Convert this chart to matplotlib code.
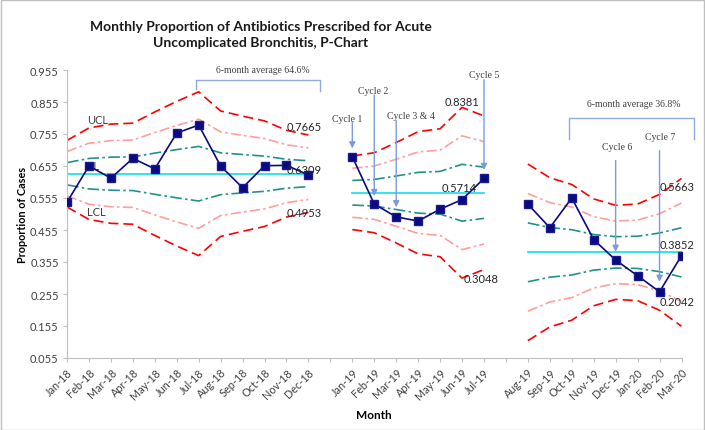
import numpy as np
import matplotlib.pyplot as plt
from matplotlib.patches import Rectangle

# ---- data ----
months_base = ['Jan-18', 'Feb-18', 'Mar-18', 'Apr-18', 'May-18', 'Jun-18',
               'Jul-18', 'Aug-18', 'Sep-18', 'Oct-18', 'Nov-18', 'Dec-18']
months_cyc = ['Jan-19', 'Feb-19', 'Mar-19', 'Apr-19', 'May-19', 'Jun-19', 'Jul-19']
months_post = ['Aug-19', 'Sep-19', 'Oct-19', 'Nov-19', 'Dec-19', 'Jan-20',
               'Feb-20', 'Mar-20']

# proportion of cases
p_base = [0.542, 0.655, 0.617, 0.679, 0.646, 0.758, 0.783, 0.655, 0.587, 0.656, 0.657, 0.627]
p_cyc = [0.684, 0.536, 0.496, 0.483, 0.520, 0.550, 0.616]
p_post = [0.536, 0.462, 0.555, 0.425, 0.361, 0.312, 0.262, 0.375]

# centre lines
cl_base = 0.6309
cl_cyc = 0.5714
cl_post = 0.3852

# 3-sigma half widths (UCL - CL) per month
w_base = [0.104, 0.143, 0.155, 0.158, 0.193, 0.226, 0.256, 0.196, 0.180, 0.165, 0.1356, 0.121]
w_cyc = [0.115, 0.125, 0.157, 0.191, 0.200, 0.2667, 0.240]
w_post = [0.276, 0.233, 0.212, 0.167, 0.147, 0.151, 0.1811, 0.231]

# category axis with an empty slot between the three phases
months = months_base + [''] + months_cyc + [''] + months_post
x_base = [months.index(m) for m in months_base]
x_cyc = [months.index(m) for m in months_cyc]
x_post = [months.index(m) for m in months_post]

SANS = ['Lato', 'DejaVu Sans']
SERIF = ['Liberation Serif', 'DejaVu Serif']

fig = plt.figure(figsize=(7.05, 4.31), dpi=100)
ax = fig.add_axes([67 / 705, 1 - 359 / 431, (681.5 - 67) / 705, (359 - 71) / 431])


def draw_segment(x, p, cl, w):
    x = np.array(x)
    w = np.array(w)
    for k, col, dash in [(3, '#FF0000', (6, 3)),
                         (2, '#FF9E9E', (6, 2, 1.5, 2)),
                         (1, '#22908E', (7, 2, 1.5, 2))]:
        ax.plot(x, cl + k * w / 3, color=col, lw=1.2, dashes=dash)
        ax.plot(x, cl - k * w / 3, color=col, lw=1.2, dashes=dash)
    ax.plot(x, np.full(len(x), cl), color='#22E0EE', lw=1.3)
    ax.plot(x, p, color='#0A0A80', lw=1.2, marker='s', markersize=5.5,
            markerfacecolor='#0A0A80', markeredgecolor='#1A1A90', zorder=5)


draw_segment(x_base, p_base, cl_base, w_base)
draw_segment(x_cyc, p_cyc, cl_cyc, w_cyc)
draw_segment(x_post, p_post, cl_post, w_post)

ax.set_xlim(0, len(months) - 1)
ax.set_ylim(0.055, 0.955)
ax.set_yticks(np.arange(0.055, 0.956, 0.1))
ax.set_yticklabels(['%.3f' % v for v in np.arange(0.055, 0.956, 0.1)],
                   family=SANS, fontsize=8, color='#404040')
ax.set_xticks(range(len(months)))
ax.set_xticklabels(months, rotation=45, ha='right', rotation_mode='anchor',
                   family=SANS, fontsize=7.8, color='#404040')
ax.tick_params(axis='both', length=3, color='#BFBFBF', pad=3)
for s in ['top', 'right']:
    ax.spines[s].set_visible(False)
for s in ['left', 'bottom']:
    ax.spines[s].set_color('#BFBFBF')

ax.set_xlabel('Month', family=SANS, fontweight='bold', fontsize=8.5, labelpad=6)
ax.set_ylabel('Proportion of Cases', family=SANS, fontweight='bold', fontsize=7.8,
              labelpad=1.5)

# control limit names
lab = dict(family=SANS, fontsize=8, color='#404040', ha='center', va='center')
ax.text(1.4, 0.799, 'UCL', **lab)
ax.text(1.2, 0.656, 'CL', zorder=2, **lab)
ax.text(1.35, 0.513, 'LCL', **lab)

# value labels
def vlabel(x, y, s, dx=0, dy=3, ha='left'):
    ax.annotate(s, (x, y), xytext=(dx, dy), textcoords='offset points',
                ha=ha, va='center', family=SANS, fontsize=8, color='#262626',
                zorder=6)

nov18 = months.index('Nov-18')
jun19 = months.index('Jun-19')
feb20 = months.index('Feb-20')
vlabel(nov18, cl_base + w_base[10], '0.7665')
vlabel(nov18, cl_base, '0.6309')
vlabel(nov18, cl_base - w_base[10], '0.4953')
vlabel(jun19, cl_cyc + w_cyc[5], '0.8381', dy=4, ha='center')
vlabel(jun19 - 0.15, cl_cyc, '0.5714', dy=3.5, ha='center')
vlabel(jun19, cl_cyc - w_cyc[5], '0.3048', dx=1, dy=0)
vlabel(feb20, cl_post + w_post[6], '0.5663', dy=6)
vlabel(feb20, cl_post, '0.3852', dy=6)
vlabel(feb20, cl_post - w_post[6], '0.2042', dy=6)

# 6-month average brackets
bcol = '#8FAADC'
ax.plot([5.87, 5.87, 11.54, 11.54], [0.896, 0.925, 0.925, 0.890], color=bcol,
        lw=1, clip_on=False)
ax.plot([22.88, 22.88, 28.56, 28.56], [0.739, 0.804, 0.804, 0.739], color=bcol,
        lw=1, clip_on=False)
ser = dict(family=SERIF, fontsize=7, color='#404040', ha='center', va='center')
ax.text(8.91, 0.956, '6-month average 64.6%', clip_on=False, **ser)
ax.text(25.81, 0.851, '6-month average 36.8%', **ser)

# improvement cycle arrows
cycles = [('Cycle 1', 'Jan-19', 12.77, 0.804, 0.793, 0.710),
          ('Cycle 2', 'Feb-19', 13.93, 0.890, 0.877, 0.561),
          ('Cycle 3 & 4', 'Mar-19', 15.69, 0.814, 0.797, 0.526),
          ('Cycle 5', 'Jul-19', 19.01, 0.940, 0.925, 0.6425),
          ('Cycle 6', 'Dec-19', 25.07, 0.717, 0.672, 0.387),
          ('Cycle 7', 'Feb-20', 27.03, 0.748, 0.703, 0.293)]
for name, m, tx, ty, y0, y1 in cycles:
    xi = months.index(m)
    ax.text(tx, ty, name, **ser)
    ax.annotate('', xy=(xi, y1), xytext=(xi, y0),
                arrowprops=dict(arrowstyle='-|>', color='#7A9CDA', lw=1,
                                mutation_scale=9, shrinkA=0, shrinkB=0))

fig.text(261 / 705, 1 - 35 / 431,
         'Monthly Proportion of Antibiotics Prescribed for Acute\nUncomplicated Bronchitis, P-Chart',
         ha='center', va='center', fontsize=10, fontweight='bold', linespacing=1.45,
         family=SANS, color='#1A1A1A')

fig.patches.append(Rectangle((0.001, 0.001), 0.997, 0.997, transform=fig.transFigure,
                             fill=False, edgecolor='#BFBFBF', lw=1))

fig.savefig('out.png', dpi=100)
